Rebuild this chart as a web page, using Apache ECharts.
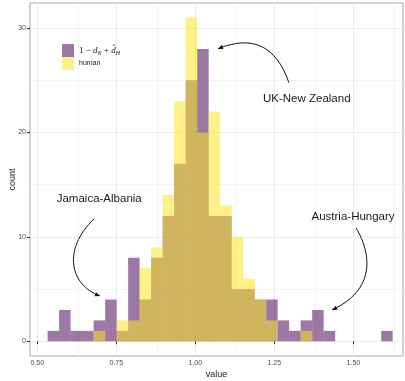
<!DOCTYPE html>
<html>
<head>
<meta charset="utf-8">
<script src="https://cdn.jsdelivr.net/npm/echarts@6/dist/echarts.min.js"></script>
<style>
  html, body { margin: 0; padding: 0; background: #fff; }
  #chart { width: 405px; height: 381px; }
</style>
</head>
<body>
<div id="chart"></div>
<script>
// Histogram bins (30 bins of equal width)
const binStart = 0.5327;
const binWidth = 0.03639;

// Counts per bin
const dnCounts    = [1, 3, 1, 1, 2, 4, 1, 8, 4, 8, 12, 17, 25, 28, 12, 12, 5, 5, 4, 4, 2, 1, 2, 3, 1, 0, 0, 0, 0, 1];
const humanCounts = [0, 0, 0, 0, 1, 0, 2, 2, 7, 9, 14, 23, 31, 20, 22, 13, 10, 6, 4, 2, 0, 0, 1, 0, 0, 0, 0, 0, 0, 0];

// Axis ticks
const xTicks = [0.5, 0.75, 1.0, 1.25, 1.5];
const xMinor = [0.625, 0.875, 1.125, 1.375, 1.625];
const yTicks = [0, 10, 20, 30];
const yMinor = [5, 15, 25];

// Callouts in data coordinates
const callouts = [
  { text: 'UK-New Zealand', at: [1.3525, 23.26],
    curve: [[1.296, 24.77], [1.2563, 28.28], [1.1816, 29.37], [1.0718, 28.02]] },
  { text: 'Jamaica-Albania', at: [0.696, 13.61],
    curve: [[0.6794, 11.73], [0.5782, 8.75], [0.6035, 5.40], [0.6984, 4.34]] },
  { text: 'Austria-Hungary', at: [1.499, 11.92],
    curve: [[1.5085, 10.86], [1.5592, 8.27], [1.5687, 4.92], [1.4326, 3.0]] }
];

const PURPLE = 'rgba(68,1,84,0.53)';
const YELLOW = 'rgba(253,231,37,0.55)';
const FONT = '"Liberation Sans", Arial, sans-serif';

function binData(counts) {
  const out = [];
  counts.forEach((c, i) => {
    if (c > 0) out.push([binStart + i * binWidth, binStart + (i + 1) * binWidth, c]);
  });
  return out;
}

function histSeries(name, counts, color, z) {
  return {
    name: name,
    type: 'custom',
    z: z,
    itemStyle: { color: color },
    encode: { x: [0, 1], y: 2 },
    data: binData(counts),
    renderItem: function (params, api) {
      const top = api.coord([api.value(0), api.value(2)]);
      const base = api.coord([api.value(1), 0]);
      return {
        type: 'rect',
        shape: { x: top[0], y: top[1], width: base[0] - top[0], height: base[1] - top[1] },
        style: { fill: color }
      };
    }
  };
}

function gridLines(values, axis, color) {
  return values.map(v => {
    const d = {}; d[axis] = v;
    return Object.assign(d, { lineStyle: { color: color, width: 1, type: 'solid' } });
  });
}

const chart = echarts.init(document.getElementById('chart'), null, { renderer: 'canvas' });

chart.setOption({
  animation: false,
  backgroundColor: '#fff',
  grid: {
    left: 30, right: 2, top: 3, bottom: 25,
    outerBoundsMode: 'none',
    containLabel: false,
    show: true, borderColor: '#a6a6a6', borderWidth: 1, backgroundColor: 'transparent'
  },
  legend: {
    orient: 'vertical',
    left: 62, top: 44,
    padding: 0,
    itemGap: 0,
    itemWidth: 12, itemHeight: 13,
    icon: 'rect',
    selectedMode: false,
    data: ['dN', 'human'],
    formatter: function (name) {
      if (name === 'dN') return '{m|1 − }{i|d}{s|N}{m| + }{i|d\u0302}{s|H}';
      return name;
    },
    textStyle: {
      fontFamily: FONT, fontSize: 7, color: '#1a1a1a',
      rich: {
        m: { fontFamily: '"Liberation Serif", "DejaVu Serif", serif', fontSize: 9, color: '#1a1a1a' },
        i: { fontFamily: '"Liberation Serif", "DejaVu Serif", serif', fontStyle: 'italic', fontSize: 9, color: '#1a1a1a' },
        s: { fontFamily: '"Liberation Serif", "DejaVu Serif", serif', fontStyle: 'italic', fontSize: 6, color: '#1a1a1a', padding: [5, 0, 0, 0] }
      }
    }
  },
  xAxis: {
    type: 'value',
    min: 0.477, max: 1.657,
    name: 'value',
    nameLocation: 'middle',
    nameGap: 14,
    nameMoveOverlap: false,
    nameTextStyle: { fontFamily: FONT, fontSize: 9, color: '#1a1a1a' },
    axisLine: { show: false },
    axisTick: { show: true, customValues: xTicks, length: 3, lineStyle: { color: '#333' } },
    axisLabel: {
      customValues: xTicks, fontFamily: FONT, fontSize: 7, color: '#4d4d4d', margin: 4,
      formatter: v => v.toFixed(2)
    },
    splitLine: { show: false }
  },
  yAxis: {
    type: 'value',
    min: -1.41, max: 32.4,
    name: 'count',
    nameLocation: 'middle',
    nameGap: 13,
    nameMoveOverlap: false,
    nameRotate: 90,
    nameTextStyle: { fontFamily: FONT, fontSize: 9, color: '#1a1a1a' },
    axisLine: { show: false },
    axisTick: { show: true, customValues: yTicks, length: 3, lineStyle: { color: '#333' } },
    axisLabel: {
      customValues: yTicks, fontFamily: FONT, fontSize: 7, color: '#4d4d4d', margin: 4,
      formatter: v => String(v)
    },
    splitLine: { show: false }
  },
  series: [
    {
      type: 'line', data: [], silent: true, z: 0,
      markLine: {
        z: 0,
        silent: true, symbol: ['none', 'none'], label: { show: false }, animation: false,
        data: [].concat(
          gridLines(xMinor, 'xAxis', '#f4f4f4'),
          gridLines(yMinor, 'yAxis', '#f4f4f4'),
          gridLines(xTicks, 'xAxis', '#ebebeb'),
          gridLines(yTicks, 'yAxis', '#ebebeb')
        )
      }
    },
    histSeries('dN', dnCounts, PURPLE, 3),
    histSeries('human', humanCounts, YELLOW, 4)
  ]
});

// Callout labels and curved arrows
function drawCallouts() {
  const px = p => chart.convertToPixel({ gridIndex: 0 }, p);
  const elements = [];
  callouts.forEach(c => {
    const t = px(c.at);
    elements.push({
      type: 'text', x: t[0], y: t[1], z: 100,
      style: { text: c.text, fontFamily: FONT, fontSize: 11.5, fill: '#1a1a1a', align: 'center', verticalAlign: 'middle' }
    });
    const [s, c1, c2, e] = c.curve.map(px);
    elements.push({
      type: 'bezierCurve', z: 100,
      shape: { x1: s[0], y1: s[1], cpx1: c1[0], cpy1: c1[1], cpx2: c2[0], cpy2: c2[1], x2: e[0], y2: e[1] },
      style: { stroke: '#111', lineWidth: 1, fill: null }
    });
    const ang = Math.atan2(e[1] - c2[1], e[0] - c2[0]);
    const L = 5, W = 2.2;
    const bx = e[0] - L * Math.cos(ang), by = e[1] - L * Math.sin(ang);
    elements.push({
      type: 'polygon', z: 100,
      shape: { points: [
        [e[0], e[1]],
        [bx + W * Math.sin(ang), by - W * Math.cos(ang)],
        [bx - W * Math.sin(ang), by + W * Math.cos(ang)]
      ] },
      style: { fill: '#111' }
    });
  });
  chart.setOption({ graphic: { elements: elements } });
}
drawCallouts();
</script>
</body>
</html>
